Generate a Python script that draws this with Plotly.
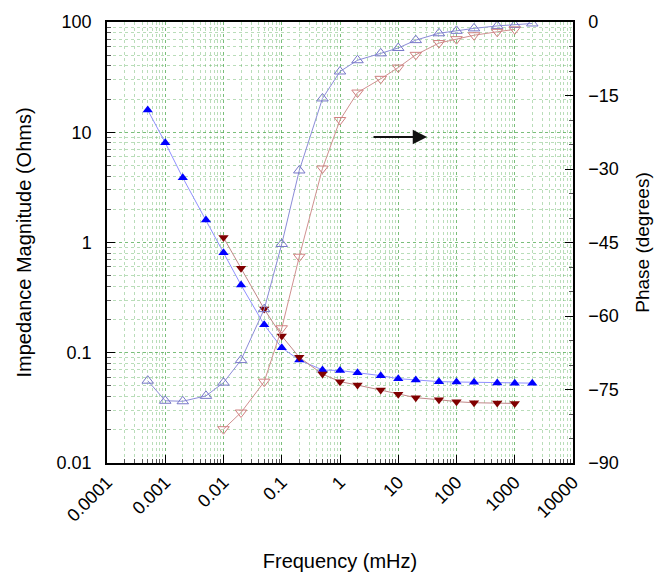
import plotly.graph_objects as go

# Frequencies (mHz)
freq_a = [0.0005, 0.001, 0.002, 0.005, 0.01, 0.02, 0.05, 0.1, 0.2, 0.5, 1, 2, 5, 10, 20, 50, 100, 200, 500, 1000, 2000]
freq_b = [0.01, 0.02, 0.05, 0.1, 0.2, 0.5, 1, 2, 5, 10, 20, 50, 100, 200, 500, 1000]

# Impedance magnitude (Ohms)
mag_a = [15.9, 8.03, 3.87, 1.6, 0.807, 0.412, 0.179, 0.111, 0.086, 0.0698, 0.069, 0.066, 0.062, 0.0582,
         0.0566, 0.0547, 0.0543, 0.054, 0.0532, 0.053, 0.053]
mag_b = [1.11, 0.583, 0.249, 0.142, 0.091, 0.064, 0.0547, 0.0509, 0.0459, 0.042, 0.0391, 0.0375, 0.036,
         0.0352, 0.035, 0.0347]

# Phase (degrees)
phase_a = [-73.2, -77.3, -77.4, -76.3, -73.6, -69.0, -58.6, -45.3, -30.3, -15.6, -10.1, -7.8, -6.4, -5.3,
           -3.7, -2.3, -1.8, -1.3, -0.8, -0.6, -0.3]
phase_b = [-83.1, -79.7, -73.4, -62.5, -47.9, -29.9, -20.0, -14.4, -11.6, -9.3, -6.7, -4.3, -3.5, -2.7,
           -2.0, -1.5]

x_tickvals = [0.0001, 0.001, 0.01, 0.1, 1, 10, 100, 1000, 10000]
x_ticktext = ["0.0001", "0.001", "0.01", "0.1", "1", "10", "100", "1000", "10000"]
y_tickvals = [0.01, 0.1, 1, 10, 100]
y_ticktext = ["0.01", "0.1", "1", "10", "100"]
y2_tickvals = [-90, -75, -60, -45, -30, -15, 0]

FONT = "Liberation Sans, Arial, Helvetica, sans-serif"
GRID = "rgba(80,170,80,0.6)"
MINGRID = "rgba(80,170,80,0.4)"

fig = go.Figure()

fig.add_trace(go.Scatter(
    x=freq_a, y=phase_a, yaxis="y2", mode="lines+markers",
    line=dict(color="#8c8cd8", width=1),
    marker=dict(symbol="triangle-up-open", size=10, color="#7878c8", line=dict(width=1)),
    showlegend=False))
fig.add_trace(go.Scatter(
    x=freq_b, y=phase_b, yaxis="y2", mode="lines+markers",
    line=dict(color="#d09090", width=1),
    marker=dict(symbol="triangle-down-open", size=10, color="#d08080", line=dict(width=1)),
    showlegend=False))
fig.add_trace(go.Scatter(
    x=freq_a, y=mag_a, mode="lines+markers",
    line=dict(color="#9090ff", width=1),
    marker=dict(symbol="triangle-up", size=9, color="#0000ff"),
    showlegend=False))
fig.add_trace(go.Scatter(
    x=freq_b, y=mag_b, mode="lines+markers",
    line=dict(color="#c08888", width=1),
    marker=dict(symbol="triangle-down", size=9, color="#800000"),
    showlegend=False))

fig.add_annotation(
    x=1.494, y=0.957, xref="x", yref="y", ax=-55, ay=0,
    showarrow=True, arrowhead=2, arrowsize=1.3, arrowwidth=2.2, arrowcolor="#111111", text="")

fig.update_layout(
    width=658, height=576,
    margin=dict(l=107, r=85, t=22, b=113),
    paper_bgcolor="white", plot_bgcolor="white",
    font=dict(family=FONT, size=18, color="black"),
    xaxis=dict(
        type="log", range=[-4, 4], automargin=False,
        tickmode="array", tickvals=x_tickvals, ticktext=x_ticktext, tickangle=-45,
        ticks="inside", ticklen=8, tickcolor="black",
        showline=True, linecolor="black", linewidth=1.5, mirror=True,
        showgrid=True, gridcolor=GRID, griddash="dot", gridwidth=1,
        minor=dict(ticks="inside", ticklen=4, tickcolor="#555", dtick="D1",
                   showgrid=True, gridcolor=MINGRID, griddash="dot"),
        title=dict(text="Frequency (mHz)", standoff=30, font=dict(size=20)),
        zeroline=False,
    ),
    yaxis=dict(
        type="log", range=[-2, 2], automargin=False,
        tickmode="array", tickvals=y_tickvals, ticktext=y_ticktext,
        ticks="inside", ticklen=8, tickcolor="black",
        showline=True, linecolor="black", linewidth=1.5,
        showgrid=True, gridcolor=GRID, griddash="dot", gridwidth=1,
        minor=dict(ticks="inside", ticklen=4, tickcolor="#555", dtick="D1",
                   showgrid=True, gridcolor=MINGRID, griddash="dot"),
        ticklabelstandoff=10,
        title=dict(text="Impedance Magnitude (Ohms)", standoff=20, font=dict(size=20)),
        zeroline=False,
    ),
    yaxis2=dict(
        overlaying="y", side="right", range=[-90, 0], automargin=False,
        tickmode="array", tickvals=y2_tickvals,
        ticks="inside", ticklen=8, tickcolor="black",
        showline=True, linecolor="black", linewidth=1.5,
        showgrid=False,
        minor=dict(ticks="inside", ticklen=4, tickcolor="#555", dtick=5),
        ticklabelstandoff=10,
        title=dict(text="Phase (degrees)", standoff=18, font=dict(size=19)),
        zeroline=False,
    ),
)

fig.write_html("out.html")
